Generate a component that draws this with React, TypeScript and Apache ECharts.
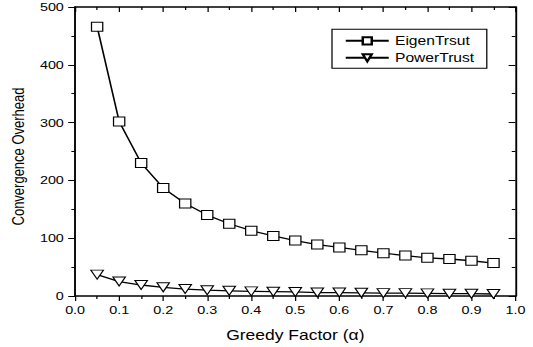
import React, { useEffect, useRef } from "react";
import * as echarts from "echarts";

// horizontal stretch of the whole picture (the reference is drawn wide)
const S = 1.25;
const W = 533 / S;
const H = 347;

const greedyFactor = [0.05, 0.1, 0.15, 0.2, 0.25, 0.3, 0.35, 0.4, 0.45, 0.5, 0.55, 0.6, 0.65, 0.7, 0.75, 0.8, 0.85, 0.9, 0.95];
const eigenTrsut = [466, 302, 230, 187, 160, 140, 125, 113, 104, 96, 89, 84, 79, 74, 70, 66, 64, 61, 57];
const powerTrust = [37, 25, 19, 15, 12, 10, 9, 8, 7.5, 7, 6, 6, 5.5, 5, 5, 4.5, 4, 4, 3.5];
const seriesNames = ["EigenTrsut", "PowerTrust"];
const xAxisName = "Greedy Factor (\u03b1)";
const yAxisName = "Convergence Overhead";

const FONT = "Liberation Sans, Arial, sans-serif";

export default function App() {
  const ref = useRef<HTMLDivElement>(null);
  useEffect(() => {
    if (!ref.current) return;
    const chart = echarts.init(ref.current, null, { renderer: "svg" });
    const axisLine = { show: true, onZero: false, lineStyle: { color: "#000", width: 1.5 } };
    chart.setOption({
      animation: false,
      backgroundColor: "#fff",
      textStyle: { fontFamily: FONT },
      grid: { left: 72 / S, right: (533 - 516) / S, top: 7, bottom: 49.3 },
      legend: {
        left: 332 / S,
        top: 29.3,
        orient: "vertical",
        data: seriesNames,
        itemWidth: 43 / S,
        itemHeight: 9,
        itemGap: 4,
        padding: [5, 10, 4, 10],
        borderColor: "#000",
        borderWidth: 1,
        backgroundColor: "#fff",
        textStyle: { fontFamily: FONT, fontSize: 12.5, color: "#000" },
      },
      xAxis: [
        {
          type: "value",
          min: 0,
          max: 1,
          interval: 0.1,
          name: xAxisName,
          nameLocation: "middle",
          nameGap: 32,
          nameTextStyle: { fontFamily: FONT, fontSize: 14, color: "#000" },
          axisLine,
          axisTick: { show: true, inside: false, length: 5, lineStyle: { color: "#000", width: 1 } },
          minorTick: { show: true, splitNumber: 2, length: 3, lineStyle: { color: "#000", width: 1 } },
          axisLabel: {
            fontFamily: FONT,
            fontSize: 11.5,
            color: "#000",
            margin: 8,
            showMaxLabel: true,
            showMinLabel: true,
            formatter: (v: number) => v.toFixed(1),
          },
          splitLine: { show: false },
        },
        {
          type: "value",
          position: "top",
          min: 0,
          max: 1,
          interval: 0.1,
          axisLine,
          axisTick: { show: true, inside: true, length: 5, lineStyle: { color: "#000", width: 1 } },
          minorTick: { show: true, splitNumber: 2, length: 3, lineStyle: { color: "#000", width: 1 } },
          axisLabel: { show: false },
          splitLine: { show: false },
        },
      ],
      yAxis: [
        {
          type: "value",
          min: 0,
          max: 500,
          interval: 100,
          name: yAxisName,
          nameLocation: "middle",
          nameGap: 32,
          nameRotate: 90,
          nameTextStyle: { fontFamily: FONT, fontSize: 13, color: "#000", padding: [0, 10, 0, 0] },
          axisLine,
          axisTick: { show: true, inside: false, length: 5.5, lineStyle: { color: "#000", width: 1 } },
          minorTick: { show: true, splitNumber: 2, length: 3, lineStyle: { color: "#000", width: 1 } },
          axisLabel: { fontFamily: FONT, fontSize: 11.5, color: "#000", margin: 9 },
          splitLine: { show: false },
        },
        {
          type: "value",
          position: "right",
          min: 0,
          max: 500,
          interval: 100,
          axisLine,
          axisTick: { show: true, inside: true, length: 5.5, lineStyle: { color: "#000", width: 1 } },
          minorTick: { show: true, splitNumber: 2, length: 3, lineStyle: { color: "#000", width: 1 } },
          axisLabel: { show: false },
          splitLine: { show: false },
        },
      ],
      series: [
        {
          name: seriesNames[0],
          type: "line",
          data: greedyFactor.map((x, i) => [x, eigenTrsut[i]]),
          symbol: "rect",
          symbolSize: 9,
          showAllSymbol: true,
          lineStyle: { color: "#000", width: 1.3 },
          itemStyle: { color: "#fff", borderColor: "#000", borderWidth: 1 },
        },
        {
          name: seriesNames[1],
          type: "line",
          data: greedyFactor.map((x, i) => [x, powerTrust[i]]),
          symbol: "triangle",
          symbolRotate: 180,
          symbolSize: [10, 9],
          showAllSymbol: true,
          lineStyle: { color: "#000", width: 1.3 },
          itemStyle: { color: "#fff", borderColor: "#000", borderWidth: 1 },
        },
      ],
    });
    return () => chart.dispose();
  }, []);
  return (
    <div
      style={{
        position: "fixed",
        left: 0,
        top: 0,
        width: 533,
        height: 347,
        overflow: "hidden",
        background: "#fff",
      }}
    >
      <div
        ref={ref}
        style={{ width: W, height: H, transform: `scaleX(${S})`, transformOrigin: "0 0" }}
      />
    </div>
  );
}
